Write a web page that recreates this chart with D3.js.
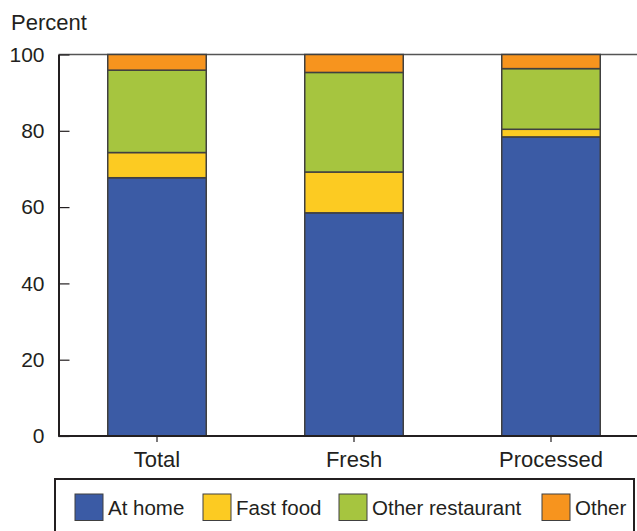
<!DOCTYPE html>
<html lang="en">
<head>
    <meta charset="UTF-8">
    <title>Stacked bars</title>
    <script src="https://cdn.jsdelivr.net/npm/d3@7/dist/d3.min.js"></script>
    <style>
        body { margin: 0; background: #fff; }
        text { font-family: 'Liberation Sans', Arial, sans-serif; fill: #231f20; }
    </style>
</head>
<body>
<script type="application/javascript">
    const categories = ['Total', 'Fresh', 'Processed'];
    const seriesNames = ['At home', 'Fast food', 'Other restaurant', 'Other'];
    const atHome = [67.7, 58.5, 78.4];
    const fastFood = [6.6, 10.7, 2.0];
    const otherRestaurant = [21.6, 26.1, 15.9];
    const other = [4.1, 4.7, 3.7];
    const yTicks = [0, 20, 40, 60, 80, 100];
    const colors = ['#3b5ba5', '#fccb22', '#a6c53f', '#f7941e'];

    const w = 637, h = 531;
    const plotLeft = 58.5, plotTop = 54.5, plotBottom = 436;

    let dataset = categories.map((c, i) => ({
        category: c,
        'At home': atHome[i],
        'Fast food': fastFood[i],
        'Other restaurant': otherRestaurant[i],
        'Other': other[i]
    }));

    let svg = d3.select('body')
        .append('svg')
        .attr('width', w)
        .attr('height', h);

    let xScale = d3.scaleBand()
        .domain(categories)
        .range([plotLeft, plotLeft + 3 * 197])
        .paddingInner(0.5)
        .paddingOuter(0.25);

    let yScale = d3.scaleLinear()
        .domain([0, 100])
        .range([plotBottom, plotTop]);

    let stack = d3.stack().keys(seriesNames)(dataset);

    // top frame line
    svg.append('line')
        .attr('x1', plotLeft).attr('x2', w)
        .attr('y1', plotTop).attr('y2', plotTop)
        .attr('stroke', '#555').attr('stroke-width', 1.5);

    svg.selectAll('g.layer')
        .data(stack)
        .enter()
        .append('g')
        .attr('class', 'layer')
        .attr('fill', (d, i) => colors[i])
        .selectAll('rect')
        .data(d => d)
        .enter()
        .append('rect')
        .attr('x', d => xScale(d.data.category))
        .attr('y', d => yScale(d[1]))
        .attr('width', xScale.bandwidth())
        .attr('height', d => yScale(d[0]) - yScale(d[1]))
        .attr('stroke', '#404040')
        .attr('stroke-width', 1.5);

    // y axis
    let yAxis = svg.append('g')
        .attr('transform', 'translate(' + plotLeft + ',0)')
        .call(d3.axisLeft(yScale).tickValues(yTicks).tickSizeInner(-11).tickSizeOuter(0).tickPadding(14));
    yAxis.select('.domain').attr('stroke', '#231f20').attr('stroke-width', 2);
    yAxis.selectAll('.tick line').attr('stroke', '#231f20').attr('stroke-width', 1.2);
    yAxis.selectAll('text').attr('font-size', '21px').attr('font-family', null).attr('fill', '#231f20');

    // x axis
    let xAxis = svg.append('g')
        .attr('transform', 'translate(0,' + plotBottom + ')')
        .call(d3.axisBottom(xScale).tickSizeInner(6).tickSizeOuter(0).tickPadding(9));
    xAxis.select('.domain').attr('d', 'M' + plotLeft + ',0H' + w).attr('stroke', '#231f20').attr('stroke-width', 2);
    xAxis.selectAll('.tick line').attr('stroke', '#231f20').attr('stroke-width', 1.2);
    xAxis.selectAll('text').attr('font-size', '22px').attr('font-family', null).attr('fill', '#231f20');

    svg.append('text')
        .attr('x', 11)
        .attr('y', 29.5)
        .attr('font-size', '22px')
        .text('Percent');

    // legend
    svg.append('rect')
        .attr('x', 55).attr('y', 479)
        .attr('width', 579).attr('height', 60)
        .attr('fill', 'none')
        .attr('stroke', '#231f20')
        .attr('stroke-width', 2);

    const legendX = [75, 203, 339, 542];
    let legend = svg.selectAll('g.legend')
        .data(seriesNames)
        .enter()
        .append('g')
        .attr('class', 'legend')
        .attr('transform', (d, i) => 'translate(' + legendX[i] + ',494)');
    legend.append('rect')
        .attr('width', 28).attr('height', 26.5)
        .attr('fill', (d, i) => colors[i])
        .attr('stroke', '#404040')
        .attr('stroke-width', 1);
    legend.append('text')
        .attr('x', 33)
        .attr('y', 20.5)
        .attr('font-size', '20.5px')
        .text(d => d);
</script>
</body>
</html>
